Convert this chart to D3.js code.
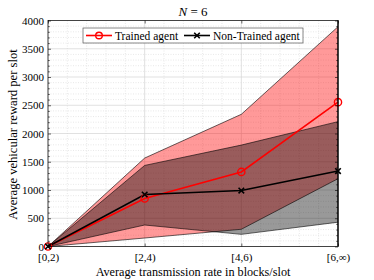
<!DOCTYPE html>
<html>
<head>
<meta charset="utf-8">
<script src="https://cdn.jsdelivr.net/npm/d3@7"></script>
<style>
  body { margin: 0; background: #fff; }
  text { font-family: "Liberation Serif", "DejaVu Serif", serif; fill: #000; }
</style>
</head>
<body>
<svg width="374" height="280"></svg>
<script>
// values
var categories = ["[0,2)", "[2,4)", "[4,6)", "[6,\u221e)"];
var trained = [0, 850, 1320, 2555];
var trainedLo = [0, 150, 305, 1200];
var trainedHi = [0, 1565, 2340, 3890];
var nonTrained = [0, 920, 990, 1335];
var nonTrainedLo = [0, 380, 215, 430];
var nonTrainedHi = [0, 1435, 1795, 2210];
var yTicks = [0, 500, 1000, 1500, 2000, 2500, 3000, 3500, 4000];

var svg = d3.select("svg"),
    margin = {top: 20.5, right: 36, bottom: 33.5, left: 48},
    width = svg.attr("width") - margin.left - margin.right,
    height = svg.attr("height") - margin.top - margin.bottom;

var x = d3.scalePoint().domain(categories).range([0, width]);
var xl = d3.scaleLinear().domain([0, categories.length - 1]).range([0, width]);
var y = d3.scaleLinear().domain([0, 4000]).range([height, 0]);

var g = svg.append("g")
    .attr("transform", "translate(" + margin.left + "," + margin.top + ")");

// grid: minor dotted, major solid
var minorX = d3.range(0, categories.length - 1 + 1e-9, 0.2).filter(function(v) { return Math.abs(v - Math.round(v)) > 1e-6; });
var minorY = d3.range(100, 4000, 100).filter(function(v) { return v % 500 !== 0; });

g.selectAll(".mgx").data(minorX).enter().append("line")
    .attr("x1", function(d) { return xl(d); }).attr("x2", function(d) { return xl(d); })
    .attr("y1", 0).attr("y2", height)
    .attr("stroke", "#d8d8d8").attr("stroke-width", 0.6).attr("stroke-dasharray", "1,1.5");
g.selectAll(".mgy").data(minorY).enter().append("line")
    .attr("y1", function(d) { return y(d); }).attr("y2", function(d) { return y(d); })
    .attr("x1", 0).attr("x2", width)
    .attr("stroke", "#d8d8d8").attr("stroke-width", 0.6).attr("stroke-dasharray", "1,1.5");
g.selectAll(".gx").data(categories).enter().append("line")
    .attr("x1", function(d) { return x(d); }).attr("x2", function(d) { return x(d); })
    .attr("y1", 0).attr("y2", height)
    .attr("stroke", "#d4d4d4").attr("stroke-width", 0.7);
g.selectAll(".gy").data(yTicks).enter().append("line")
    .attr("y1", function(d) { return y(d); }).attr("y2", function(d) { return y(d); })
    .attr("x1", 0).attr("x2", width)
    .attr("stroke", "#d4d4d4").attr("stroke-width", 0.7);

// shaded bands
function band(lo, hi) {
  return d3.area()
      .x(function(d, i) { return x(categories[i]); })
      .y0(function(d, i) { return y(lo[i]); })
      .y1(function(d, i) { return y(hi[i]); })(categories);
}
function edge(vals) {
  return d3.line()
      .x(function(d, i) { return x(categories[i]); })
      .y(function(d) { return y(d); })(vals);
}

g.append("path").attr("d", band(trainedLo, trainedHi))
    .attr("fill", "#ff0000").attr("fill-opacity", 0.4);
g.append("path").attr("d", band(nonTrainedLo, nonTrainedHi))
    .attr("fill", "#000").attr("fill-opacity", 0.4);
[trainedLo, trainedHi, nonTrainedLo, nonTrainedHi].forEach(function(v) {
  g.append("path").attr("d", edge(v))
      .attr("fill", "none").attr("stroke", "#000").attr("stroke-width", 0.6);
});

// mean lines
g.append("path").attr("d", edge(trained))
    .attr("fill", "none").attr("stroke", "#ff0000").attr("stroke-width", 1.6);
g.append("path").attr("d", edge(nonTrained))
    .attr("fill", "none").attr("stroke", "#000").attr("stroke-width", 1.6);

g.selectAll(".mk1").data(trained).enter().append("circle")
    .attr("cx", function(d, i) { return x(categories[i]); })
    .attr("cy", function(d) { return y(d); })
    .attr("r", 3.6).attr("fill", "none").attr("stroke", "#ff0000").attr("stroke-width", 1.4);

var cross = d3.symbol().type(d3.symbolX).size(22);
g.selectAll(".mk2").data(nonTrained).enter().append("path")
    .attr("transform", function(d, i) { return "translate(" + x(categories[i]) + "," + y(d) + ")"; })
    .attr("d", cross).attr("fill", "none").attr("stroke", "#000").attr("stroke-width", 1.6);

// axes, ticks inside, box around
var ax = g.append("g").attr("transform", "translate(0," + height + ")")
    .call(d3.axisBottom(x).tickSizeInner(-3).tickSizeOuter(0).tickPadding(7));
var ay = g.append("g")
    .call(d3.axisLeft(y).tickValues(yTicks).tickFormat(d3.format("d"))
      .tickSizeInner(-3).tickSizeOuter(0).tickPadding(4));
g.append("g").attr("transform", "translate(" + width + ",0)")
    .call(d3.axisRight(y).tickValues(yTicks).tickSizeInner(-3).tickSizeOuter(0).tickFormat(""));
g.append("g")
    .call(d3.axisTop(x).tickSizeInner(-3).tickSizeOuter(0).tickFormat(""));
g.append("g").call(d3.axisLeft(y).tickValues(minorY).tickSizeInner(-1.8).tickSizeOuter(0).tickFormat(""));
g.append("g").attr("transform", "translate(" + width + ",0)")
    .call(d3.axisRight(y).tickValues(minorY).tickSizeInner(-1.8).tickSizeOuter(0).tickFormat(""));
g.selectAll(".domain").remove();
g.selectAll(".tick line").attr("stroke", "#000").attr("stroke-width", 0.6);
ax.attr("font-family", null);
ay.attr("font-family", null);
ax.selectAll("text").style("font-size", "11px");
ay.selectAll("text").style("font-size", "11px");

g.append("rect").attr("width", width).attr("height", height)
    .attr("fill", "none").attr("stroke", "#000").attr("stroke-width", 0.7);
// right edge looks heavier in the picture
g.append("line").attr("x1", width).attr("x2", width).attr("y1", 0).attr("y2", height)
    .attr("stroke", "#000").attr("stroke-width", 1.2);

// labels
svg.append("text")
    .attr("x", margin.left + width / 2).attr("y", 276)
    .attr("text-anchor", "middle").style("font-size", "12.2px")
    .text("Average transmission rate in blocks/slot");
svg.append("text")
    .attr("transform", "translate(17," + (margin.top + height / 2 + 1) + ") rotate(-90)")
    .attr("text-anchor", "middle").style("font-size", "12.6px")
    .text("Average vehicular reward per slot");
var title = svg.append("text")
    .attr("x", margin.left + width / 2).attr("y", 15.5)
    .attr("text-anchor", "middle").style("font-size", "13px");
title.append("tspan").style("font-style", "italic").text("N");
title.append("tspan").text(" = 6");

// legend
var lg = svg.append("g").attr("transform", "translate(83,28)");
lg.append("rect").attr("width", 220).attr("height", 15)
    .attr("fill", "#fff").attr("stroke", "#555").attr("stroke-width", 0.7);
lg.append("line").attr("x1", 3).attr("x2", 29).attr("y1", 7.5).attr("y2", 7.5)
    .attr("stroke", "#ff0000").attr("stroke-width", 1.6);
lg.append("circle").attr("cx", 16).attr("cy", 7.5).attr("r", 3.3)
    .attr("fill", "none").attr("stroke", "#ff0000").attr("stroke-width", 1.4);
lg.append("text").attr("x", 32).attr("y", 11.5).style("font-size", "11.5px").text("Trained agent");
lg.append("line").attr("x1", 101).attr("x2", 127).attr("y1", 7.5).attr("y2", 7.5)
    .attr("stroke", "#000").attr("stroke-width", 1.6);
lg.append("path").attr("transform", "translate(114,7.5)").attr("d", cross)
    .attr("fill", "none").attr("stroke", "#000").attr("stroke-width", 1.6);
lg.append("text").attr("x", 130).attr("y", 11.5).style("font-size", "11.5px").text("Non-Trained agent");
</script>
</body>
</html>
